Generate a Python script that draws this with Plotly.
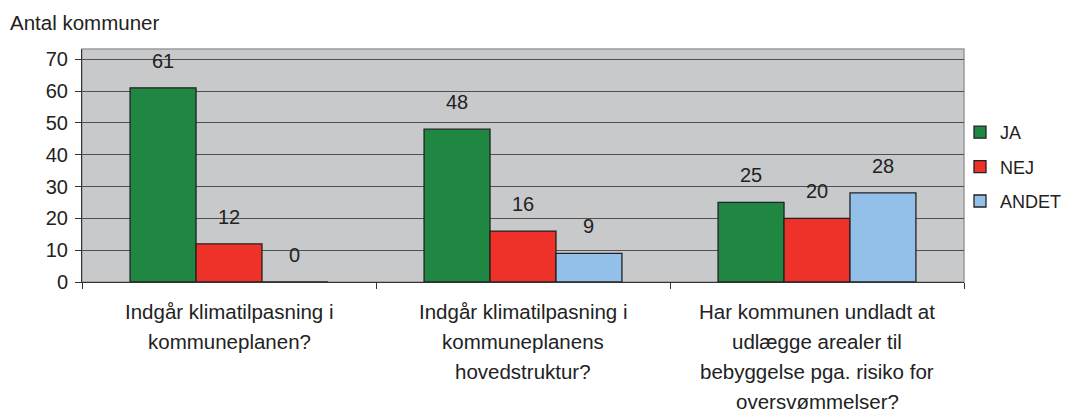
import plotly.graph_objects as go

categories = [
    "Indgår klimatilpasning i<br>kommuneplanen?",
    "Indgår klimatilpasning i<br>kommuneplanens<br>hovedstruktur?",
    "Har kommunen undladt at<br>udlægge arealer til<br>bebyggelse pga. risiko for<br>oversvømmelser?",
]
series_names = ["JA", "NEJ", "ANDET"]
ja = [61, 48, 25]
nej = [12, 16, 20]
andet = [0, 9, 28]
y_ticks = [0, 10, 20, 30, 40, 50, 60, 70]
y_title = "Antal kommuner"

colors = ["#1f8742", "#ee3129", "#92c0e9"]
FONT = "Liberation Sans, Arial, sans-serif"
TXT = "#222222"
bargap = 0.327
n = 3
w = (1 - bargap) / n
xs = list(range(len(categories)))

fig = go.Figure()
all_vals = [ja, nej, andet]
for k, (name, vals, col) in enumerate(zip(series_names, all_vals, colors)):
    fig.add_trace(go.Bar(
        x=xs, y=vals, name=name, legendgroup=name,
        marker=dict(color=col, line=dict(color="#222222", width=1.3)),
    ))

annotations = []
for k, vals in enumerate(all_vals):
    for i, v in enumerate(vals):
        annotations.append(dict(
            x=i + (k - 1) * w, y=v, xref="x", yref="y", text=str(v),
            showarrow=False, yanchor="middle", yshift=27,
            font=dict(family=FONT, size=20, color=TXT)))

for i, cat in enumerate(categories):
    for j, line in enumerate(cat.split("<br>")):
        annotations.append(dict(
            x=i, y=0, xref="x", yref="paper", text=line, showarrow=False,
            yanchor="middle", xanchor="center", yshift=-(29 + 30 * j),
            font=dict(family=FONT, size=20.5, color=TXT)))

fig.update_layout(
    width=1075, height=411,
    margin=dict(l=74, r=119, t=41, b=137, autoexpand=False),
    paper_bgcolor="white", plot_bgcolor="#c8c9cb",
    barmode="group", bargap=bargap, bargroupgap=0,
    font=dict(family=FONT, size=20, color=TXT),
    title=dict(text=y_title, x=2 / 1075, xanchor="left", xref="container",
               y=1 - 14.7 / 411, yanchor="middle", yref="container",
               font=dict(family=FONT, size=20.5, color=TXT)),
    xaxis=dict(range=[-0.5, 2.5], tickmode="array",
               tickvals=[-0.5, 0.5, 1.5, 2.5], showticklabels=False,
               ticks="outside", ticklen=6, tickcolor="#333333",
               showgrid=False, zeroline=False, showline=True,
               linecolor="#333333", linewidth=1),
    yaxis=dict(range=[0, 73.2], tickmode="array", tickvals=y_ticks,
               ticks="outside", ticklen=6, tickcolor="#333333",
               ticklabelstandoff=3,
               showgrid=True, gridcolor="#505050", gridwidth=1,
               zeroline=False, showline=True, linecolor="#333333",
               linewidth=1, tickfont=dict(family=FONT, size=20, color=TXT)),
    legend=dict(xref="container", yref="container",
                x=952 / 1075, xanchor="left", y=1 - 106 / 411, yanchor="top",
                traceorder="grouped", tracegroupgap=8,
                font=dict(family=FONT, size=18, color=TXT),
                bgcolor="rgba(0,0,0,0)"),
    annotations=annotations,
    shapes=[dict(type="rect", xref="paper", yref="paper", x0=0, y0=0, x1=1, y1=1,
                 line=dict(color="#9a9a9a", width=1.5), layer="below")],
)

fig.write_html("out.html")
